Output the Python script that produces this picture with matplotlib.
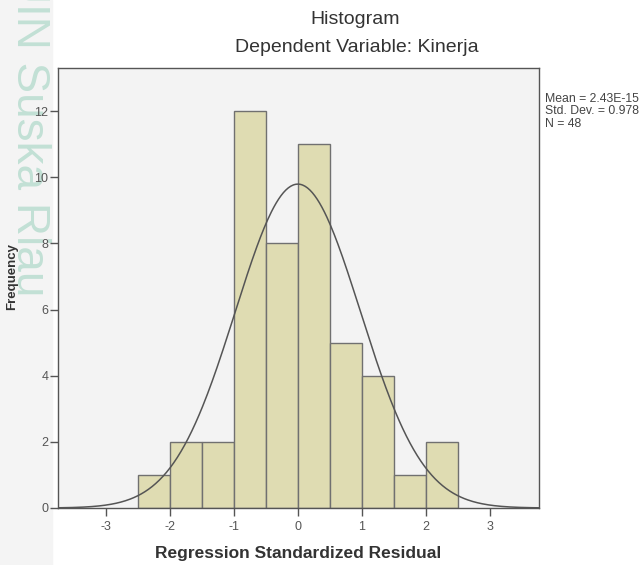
import numpy as np
import matplotlib.pyplot as plt
from matplotlib.patches import Rectangle

plt.rcParams['font.family'] = ['Liberation Sans', 'DejaVu Sans']

# histogram bins and counts
bin_edges = [-2.5, -2.0, -1.5, -1.0, -0.5, 0.0, 0.5, 1.0, 1.5, 2.0, 2.5]
counts = [1, 2, 2, 12, 8, 11, 5, 4, 1, 2]
mean = 2.43e-15
std_dev = 0.978
n_total = 48

x_ticks = [-3, -2, -1, 0, 1, 2, 3]
y_ticks = [0, 2, 4, 6, 8, 10, 12]

fig = plt.figure(figsize=(6.44, 5.65), dpi=100)
W, H = 644, 565

# light strip on the left and watermark text
fig.patches.append(Rectangle((0, 0), 52 / W, 1, transform=fig.transFigure,
                             color='#f4f4f4', zorder=-2))
fig.text(29 / W, 1 - 133 / H, 'UIN Suska Riau', rotation=-90, fontsize=33,
         color='#c2e0d5', ha='center', va='center', zorder=-1)

ax = fig.add_axes([58 / W, 1 - 508 / H, (539 - 58) / W, (508 - 68) / H])
ax.set_facecolor('#f3f3f3')

widths = np.diff(bin_edges)
ax.bar(bin_edges[:-1], counts, width=widths, align='edge',
       color='#dfdcb2', edgecolor='#707070', linewidth=1.0, zorder=2)

# fitted normal curve
xs = np.linspace(-3.75, 3.77, 400)
bw = widths[0]
ys = n_total * bw / (std_dev * np.sqrt(2 * np.pi)) * np.exp(-0.5 * ((xs - mean) / std_dev) ** 2)
ax.plot(xs, ys, color='#555555', linewidth=1.1, zorder=3)

ax.set_xlim(-3.75, 3.77)
ax.set_ylim(0, 13.3)
ax.set_xticks(x_ticks)
ax.set_xticklabels([str(t) for t in x_ticks])
ax.set_yticks(y_ticks)
ax.set_yticklabels([str(t) for t in y_ticks])
ax.tick_params(direction='out', length=6, width=1, color='#555555',
               labelcolor='#555555', labelsize=9)
ax.tick_params(axis='x', pad=3)
ax.tick_params(axis='y', pad=1)
for s in ax.spines.values():
    s.set_color('#555555')
    s.set_linewidth(1.0)

ax.set_xlabel('Regression Standardized Residual', fontsize=12.5, fontweight='bold',
              color='#333333', labelpad=10)
ax.set_ylabel('Frequency', fontsize=9.5, fontweight='bold', color='#333333')
ax.yaxis.set_label_coords((18 - 58) / 481, (508 - 276) / 440)

fig.text(355 / W, 1 - 19 / H, 'Histogram', ha='center', va='center',
         fontsize=14, color='#333333')
fig.text(357 / W, 1 - 47 / H, 'Dependent Variable: Kinerja', ha='center', va='center',
         fontsize=14, color='#333333')

fig.text(545 / W, 1 - 93 / H,
         'Mean = 2.43E-15\nStd. Dev. = 0.978\nN = 48',
         ha='left', va='top', fontsize=8.8, color='#444444', linespacing=1.05)

fig.savefig('out.png', dpi=100)
